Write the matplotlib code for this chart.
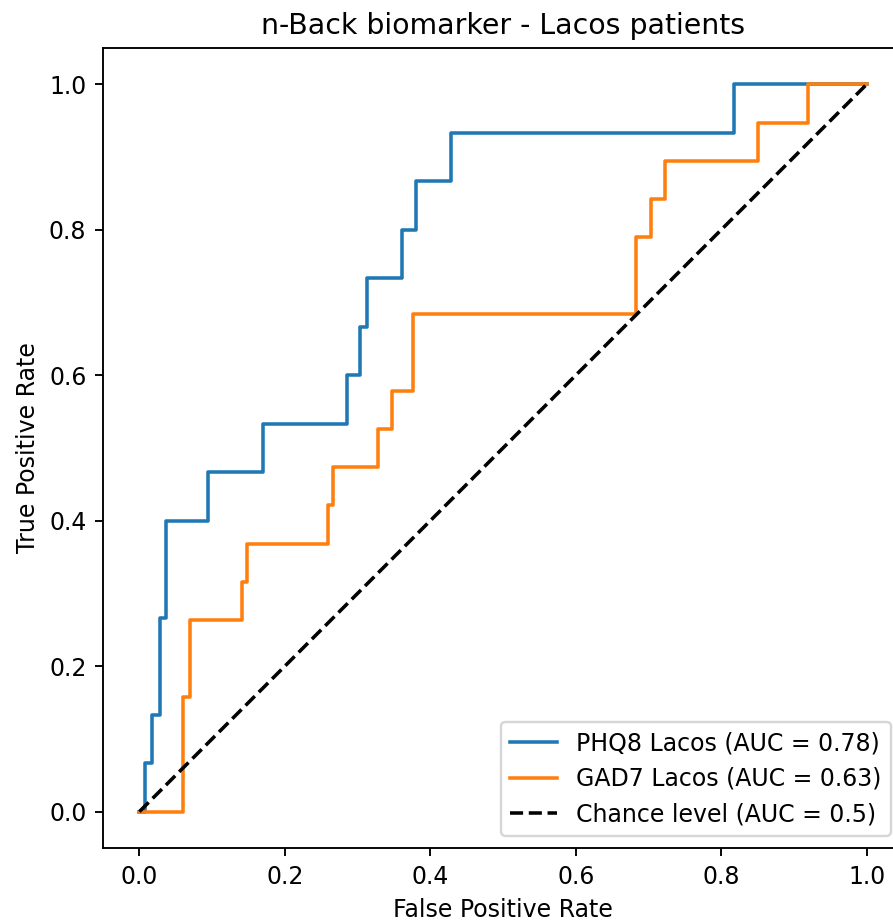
import matplotlib
matplotlib.use("Agg")
import matplotlib.pyplot as plt

# ROC corner points
phq8_fpr = [0.0, 0.0076, 0.0076, 0.018, 0.018, 0.028, 0.028, 0.037, 0.037,
            0.094, 0.094, 0.170, 0.170, 0.285, 0.285, 0.303, 0.303, 0.3125, 0.3125,
            0.3615, 0.3615, 0.38, 0.38, 0.4285, 0.4285, 0.8177, 0.8177, 1.0]
phq8_tpr = [0.0, 0.0, 1/15, 1/15, 2/15, 2/15, 4/15, 4/15, 6/15,
            6/15, 7/15, 7/15, 8/15, 8/15, 9/15, 9/15, 10/15, 10/15, 11/15,
            11/15, 12/15, 12/15, 13/15, 13/15, 14/15, 14/15, 1.0, 1.0]

gad7_fpr = [0.0, 0.0594, 0.0594, 0.0695, 0.0695, 0.1405, 0.1405, 0.148, 0.148,
            0.26, 0.26, 0.2667, 0.2667, 0.3276, 0.3276, 0.347, 0.347, 0.3767, 0.3767,
            0.6825, 0.6825, 0.7036, 0.7036, 0.7228, 0.7228, 0.851, 0.851, 0.92, 0.92, 1.0]
gad7_tpr = [0.0, 0.0, 3/19, 3/19, 5/19, 5/19, 6/19, 6/19, 7/19,
            7/19, 8/19, 8/19, 9/19, 9/19, 10/19, 10/19, 11/19, 11/19, 13/19,
            13/19, 15/19, 15/19, 16/19, 16/19, 17/19, 17/19, 18/19, 18/19, 1.0, 1.0]

labels = ["PHQ8 Lacos (AUC = 0.78)", "GAD7 Lacos (AUC = 0.63)", "Chance level (AUC = 0.5)"]

dpi = 170
fig = plt.figure(figsize=(893 / dpi, 923 / dpi), dpi=dpi)
# right spine falls just outside the saved image, as in the reference
ax = fig.add_axes([103 / 893, 75 / 923, 800 / 893, 800 / 923])

ax.plot(phq8_fpr, phq8_tpr, color="#1f77b4", label=labels[0])
ax.plot(gad7_fpr, gad7_tpr, color="#ff7f0e", label=labels[1])
ax.plot([0, 1], [0, 1], "k--", label=labels[2])

ax.set_xlim(-0.05, 1.05)
ax.set_ylim(-0.05, 1.05)
ax.set_xlabel("False Positive Rate")
ax.set_ylabel("True Positive Rate")
ax.set_title("n-Back biomarker - Lacos patients")
ax.legend(loc="lower right")

fig.savefig("out.png", dpi=dpi)
